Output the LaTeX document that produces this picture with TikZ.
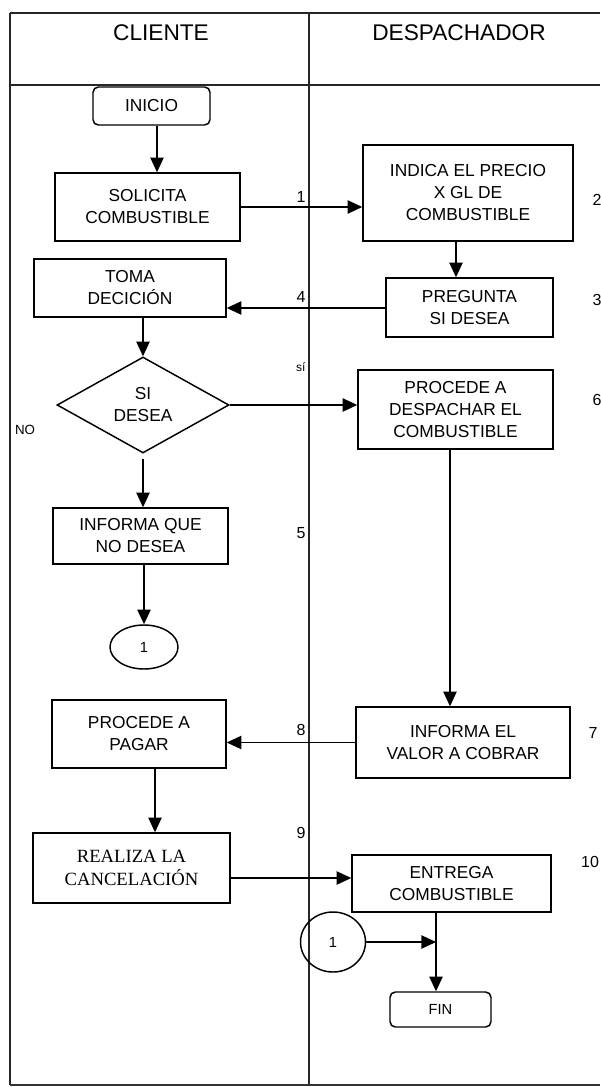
\documentclass[tikz,border=0pt]{standalone}
\usepackage{fontspec}
\setmainfont{Liberation Sans}
\newfontfamily\romanface{Liberation Serif}
\usetikzlibrary{shapes.geometric,arrows.meta}
\begin{document}
\begin{tikzpicture}[x=0.75pt,y=-0.75pt,
  frame/.style={line width=1.7pt,black!85},
  stepbox/.style={draw,line width=1.1pt,align=center,inner sep=2pt,
    font=\fontsize{13}{16.5}\selectfont},
  term/.style={stepbox,rounded corners=4pt},
  decision/.style={stepbox,diamond,inner sep=0pt},
  conn/.style={draw,ellipse,line width=1.1pt,inner sep=0pt,font=\fontsize{11}{13}\selectfont},
  arr/.style={line width=1pt,-{Triangle[length=11pt,width=10pt]}},
  num/.style={font=\fontsize{12}{14}\selectfont,inner sep=1pt},
  title/.style={font=\fontsize{17}{20}\selectfont}]
\useasboundingbox (0,0) rectangle (600,1087);

% swimlane frame
\draw[frame] (10,13) -- (600,13);
\draw[frame] (10,85) -- (600,85);
\draw[frame] (10,13) -- (10,1085);
\draw[frame] (309,13) -- (309,1085);
\draw[line width=0.8pt,black!80] (10,1085) -- (600,1085);
\node[title] (hcli) at (161,33) {CLIENTE};
\node[title] (hdes) at (459,33) {DESPACHADOR};

% process steps
\node[term,minimum width=87.75pt,minimum height=28.5pt] (inicio) at (151.5,106) {INICIO};
\node[stepbox,minimum width=138.75pt,minimum height=51pt] (solicita) at (147.5,207) {SOLICITA\\COMBUSTIBLE};
\node[stepbox,minimum width=157.5pt,minimum height=72pt] (indica) at (468,193) {INDICA EL PRECIO\\X GL DE\\COMBUSTIBLE};
\node[stepbox,minimum width=125.25pt,minimum height=44.25pt] (pregunta) at (469.5,307.5) {PREGUNTA\\SI DESEA};
\node[stepbox,minimum width=144pt,minimum height=43.5pt] (toma) at (130,288) {TOMA\\DECICIÓN};
\node[decision,minimum width=129pt,minimum height=72pt] (dec) at (143,405) {SI\\DESEA};
\node[stepbox,minimum width=146.25pt,minimum height=59.25pt] (procede) at (455.5,409.5) {PROCEDE A\\DESPACHAR EL\\COMBUSTIBLE};
\node[stepbox,minimum width=131.25pt,minimum height=42pt] (infno) at (140.5,536) {INFORMA QUE\\NO DESEA};
\node[conn,minimum width=51pt,minimum height=33pt] (c1) at (144,647) {1};
\node[stepbox,minimum width=160.5pt,minimum height=53.25pt] (informael) at (463,742.5) {INFORMA EL\\VALOR A COBRAR};
\node[stepbox,minimum width=130.5pt,minimum height=51pt] (pagar) at (139,734) {PROCEDE A\\PAGAR};
\node[stepbox,minimum width=147.75pt,minimum height=52.5pt,font=\romanface\fontsize{14}{17}\selectfont] (realiza) at (131.5,868) {REALIZA LA\\CANCELACIÓN};
\node[stepbox,minimum width=149.25pt,minimum height=42.75pt] (entrega) at (451.5,883.5) {ENTREGA\\COMBUSTIBLE};
\node[conn,minimum width=48.75pt,minimum height=45pt] (c2) at (333,942) {1};
\node[term,minimum width=75.75pt,minimum height=26.25pt,font=\fontsize{11}{13}\selectfont] (fin) at (440.5,1009.5) {FIN};

% step numbers and branch labels
\node[num,anchor=east] (n1) at (307,197) {1};
\node[num] (n2) at (597,200) {2};
\node[num] (n3) at (597,300) {3};
\node[num,anchor=east] (n4) at (307,297) {4};
\node[num,anchor=east] (n5) at (307,533) {5};
\node[num] (n6) at (597,400) {6};
\node[num] (n7) at (593,733) {7};
\node[num,anchor=east] (n8) at (307,730) {8};
\node[num,anchor=east] (n9) at (307,833) {9};
\node[num] (n10) at (590,862) {10};
\node[num,anchor=east,font=\fontsize{9}{11}\selectfont] (lsi) at (307,367) {sí};
\node[num,font=\fontsize{10}{12}\selectfont] (lno) at (25,430) {NO};

% connectors
\coordinate (xa) at (157,0);
\coordinate (xb) at (456,0);
\coordinate (ya) at (0,308);
\coordinate (xd) at (450,0);
\coordinate (xe) at (155,0);
\coordinate (yf) at (0,878);
\coordinate (j) at (436,942);

\draw[arr] (inicio.south -| xa) -- (solicita.north -| xa);
\draw[arr] (solicita.east) -- (solicita.east -| indica.west);
\draw[arr] (indica.south -| xb) -- (pregunta.north -| xb);
\draw[arr] (pregunta.west |- ya) -- (toma.east |- ya);
\draw[arr] (toma.south -| dec.north) -- (dec.north);
\draw[arr] (dec.east) -- (dec.east -| procede.west);
\draw[arr,shorten <=4pt] (dec.south) -- (infno.north -| dec.south);
\draw[arr] (infno.south -| c1.north) -- (c1.north);
\draw[arr] (procede.south -| xd) -- (informael.north -| xd);
\draw[arr] (informael.west) -- (informael.west -| pagar.east);
\draw[arr] (pagar.south -| xe) -- (realiza.north -| xe);
\draw[arr] (realiza.east |- yf) -- (entrega.west |- yf);
\draw[arr] (c2.east) -- (j);
\draw[arr] (entrega.south -| j) -- (fin.north -| j);
\end{tikzpicture}
\end{document}
